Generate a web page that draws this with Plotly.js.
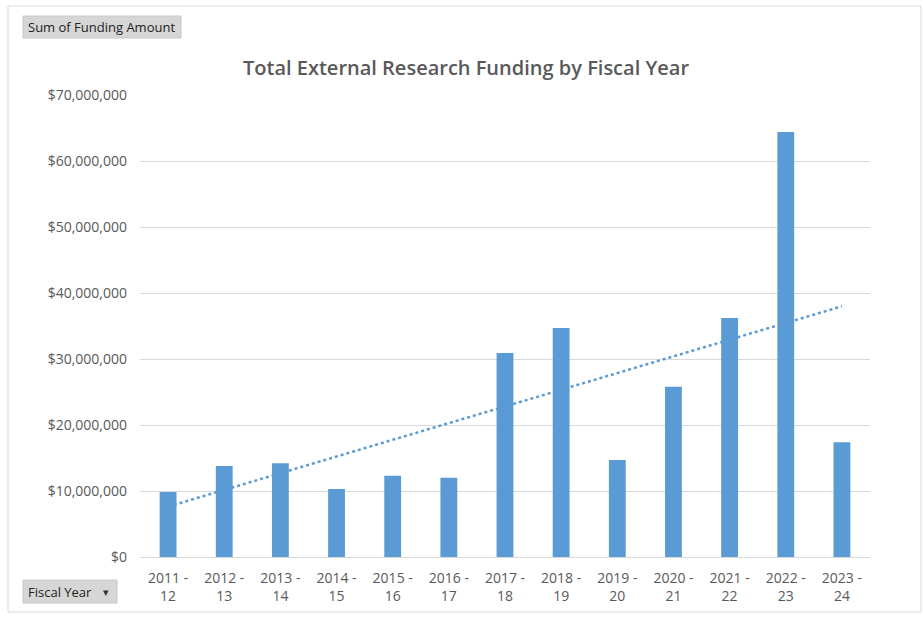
<!DOCTYPE html>
<html>
<head>
<meta charset="utf-8">
<script src="https://cdn.plot.ly/plotly-3.0.1.min.js"></script>
<style>
html,body{margin:0;padding:0;background:#fff;}
#chart{width:923px;height:620px;}
</style>
</head>
<body>
<div id="chart"></div>
<script>
// ---- data ----
const fiscalYears = ["2011 -<br>12","2012 -<br>13","2013 -<br>14","2014 -<br>15","2015 -<br>16","2016 -<br>17","2017 -<br>18","2018 -<br>19","2019 -<br>20","2020 -<br>21","2021 -<br>22","2022 -<br>23","2023 -<br>24"];
const fundingAmount = [9850000,13800000,14200000,10300000,12300000,12000000,30900000,34700000,14700000,25800000,36200000,64400000,17400000];
const yTickVals = [0,10000000,20000000,30000000,40000000,50000000,60000000,70000000];
const yTickText = ["$0","$10,000,000","$20,000,000","$30,000,000","$40,000,000","$50,000,000","$60,000,000","$70,000,000"];

// linear trendline (least squares) over the bar values, as Excel does
const n = fundingAmount.length;
const xs = fundingAmount.map((_, i) => i);
const mx = xs.reduce((a,b)=>a+b,0)/n;
const my = fundingAmount.reduce((a,b)=>a+b,0)/n;
let sxy = 0, sxx = 0;
for (let i=0;i<n;i++){ sxy += (xs[i]-mx)*(fundingAmount[i]-my); sxx += (xs[i]-mx)*(xs[i]-mx); }
const slope = sxy/sxx, intercept = my - slope*mx;
const trendY = [intercept, intercept + slope*(n-1)];
const trendX = [fiscalYears[0], fiscalYears[n-1]];

// page geometry helpers (pixel -> paper)
const W = 923, H = 620, L = 140, R = 870, T = 95, B = 557;
const px = x => (x - L)/(R - L);
const py = y => (B - y)/(B - T);

const grey = '#595959';
const font = 'Open Sans, Liberation Sans, sans-serif';

const data = [
  {type:'bar', x: fiscalYears, y: fundingAmount, marker:{color:'#5B9BD5'}, hoverinfo:'x+y'},
  {type:'scatter', mode:'lines', x: trendX, y: trendY, line:{color:'#5B9BD5', width:2.5, dash:'dot'}, hoverinfo:'skip'}
];

const layout = {
  width: W, height: H,
  margin: {l: L, r: W - R, t: T, b: H - B, pad: 0},
  paper_bgcolor: '#ffffff', plot_bgcolor: '#ffffff',
  showlegend: false,
  bargap: 0.7,
  font: {family: font, color: grey, size: 14},
  title: {text: 'Total External Research Funding by Fiscal Year', font:{family: font, size: 20, color: grey, weight: 600}, x: px(466), xref:'paper', xanchor:'center', y: 1 - 68/H, yanchor:'middle'},
  xaxis: {type:'category', showgrid:false, zeroline:false, showline:true, linecolor:'#d9d9d9', linewidth:1, ticks:'', ticklabelstandoff: 8, tickfont:{size:14, color: grey}, fixedrange:true},
  yaxis: {range:[0,70000000], tickvals: yTickVals, ticktext: yTickText, showgrid:true, gridcolor:'#d9d9d9', gridwidth:1, zeroline:false, showline:false, ticks:'', ticklabelstandoff: 12, tickfont:{size:14, color: grey}, fixedrange:true},
  shapes: [
    {type:'rect', xref:'paper', yref:'paper', x0: px(8), x1: px(921), y0: py(6), y1: py(612), line:{color:'#d9d9d9', width:1}, fillcolor:'rgba(0,0,0,0)'},
    {type:'rect', xref:'paper', yref:'paper', x0: px(23), x1: px(181), y0: py(16), y1: py(38), line:{color:'#c8c8c8', width:1}, fillcolor:'#d6d6d6', layer:'above'},
    {type:'rect', xref:'paper', yref:'paper', x0: px(23), x1: px(117), y0: py(580), y1: py(603), line:{color:'#c8c8c8', width:1}, fillcolor:'#d6d6d6', layer:'above'}
  ],
  annotations: [
    {xref:'paper', yref:'paper', x: px(101), y: py(27), text:'Sum of Funding Amount', showarrow:false, xanchor:'center', yanchor:'middle', font:{family: font, size: 13, color:'#222222'}},
    {xref:'paper', yref:'paper', x: px(60), y: py(591.5), text:'Fiscal Year', showarrow:false, xanchor:'center', yanchor:'middle', font:{family: font, size: 13, color:'#222222'}},
    {xref:'paper', yref:'paper', x: px(106), y: py(591.5), text:'▾', showarrow:false, xanchor:'center', yanchor:'middle', font:{family: font, size: 11, color:'#333333'}}
  ]
};

Plotly.newPlot('chart', data, layout, {displayModeBar:false, staticPlot:true});
</script>
</body>
</html>
